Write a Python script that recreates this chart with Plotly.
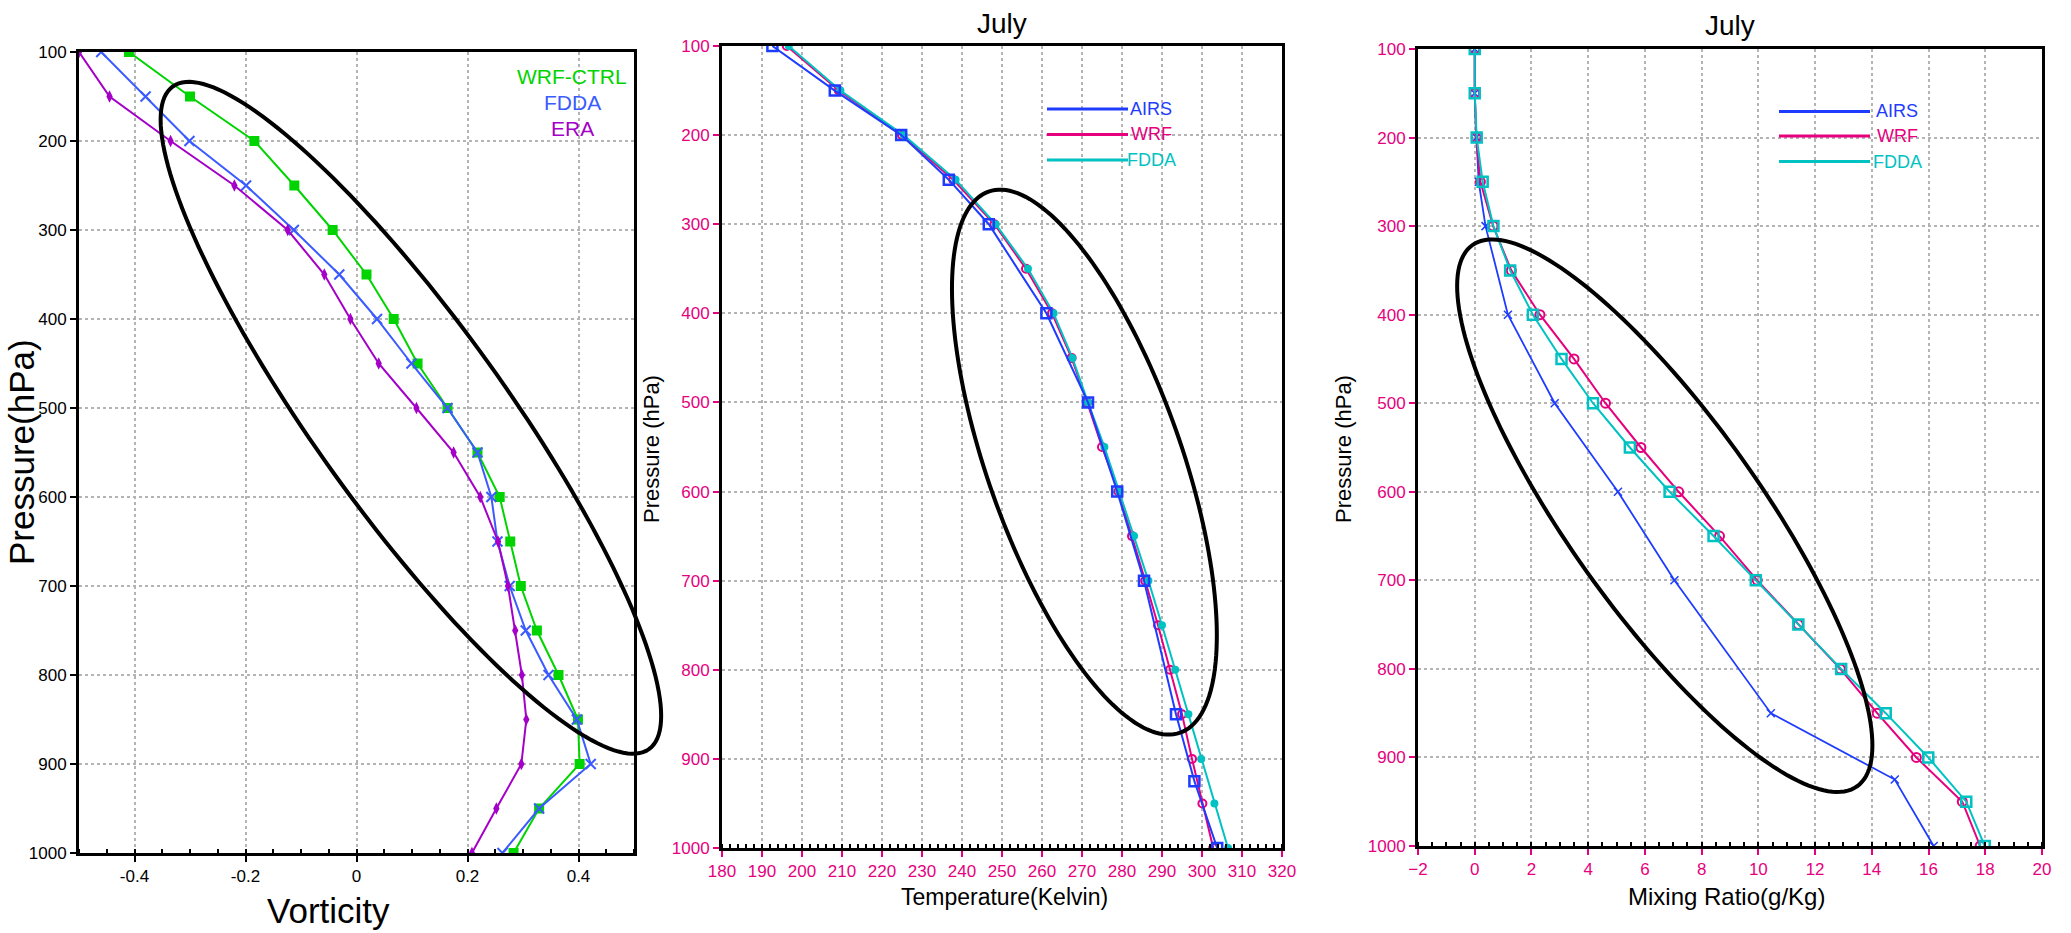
import numpy as np
import plotly.graph_objects as go

W, H = 2071, 933

# ---------------- data ----------------
p_levels = [100, 150, 200, 250, 300, 350, 400, 450, 500, 550,
            600, 650, 700, 750, 800, 850, 900, 950, 1000]

# Panel 1: vorticity
vort_wrf_ctrl = [-0.41, -0.30, -0.184, -0.112, -0.043, 0.018, 0.067, 0.110, 0.164, 0.218,
                 0.258, 0.277, 0.296, 0.325, 0.364, 0.399, 0.402, 0.329, 0.283]
vort_fdda = [-0.46, -0.38, -0.301, -0.199, -0.113, -0.031, 0.037, 0.099, 0.164, 0.218,
             0.243, 0.254, 0.276, 0.305, 0.346, 0.397, 0.422, 0.329, 0.263]
vort_era = [-0.50, -0.445, -0.335, -0.220, -0.124, -0.058, -0.011, 0.040, 0.108, 0.175,
            0.223, 0.255, 0.273, 0.286, 0.298, 0.306, 0.297, 0.252, 0.208]

# Panel 2: temperature (K)
p_airs = [100, 150, 200, 250, 300, 400, 500, 600, 700, 850, 925, 1000]
temp_airs = [192.6, 208.2, 224.8, 236.7, 246.7, 261.1, 271.5, 278.8, 285.5, 293.5, 298.1, 303.8]
temp_wrf = [196.2, 209.2, 225.0, 237.8, 248.1, 256.0, 262.5, 267.4, 271.3, 275.0,
            279.1, 282.5, 285.8, 289.0, 292.0, 295.0, 297.5, 300.1, 302.8]
temp_fdda = [196.7, 209.6, 225.4, 238.4, 248.4, 256.5, 262.9, 267.6, 271.5, 275.6,
             279.3, 283.0, 286.6, 290.0, 293.3, 296.6, 299.8, 303.1, 306.5]

# Panel 3: mixing ratio (g/kg)
mix_airs = [0.0, 0.0, 0.06, 0.14, 0.38, 1.17, 2.82, 5.05, 7.04, 10.44, 14.81, 16.18]
mix_wrf = [0.0, 0.0, 0.05, 0.20, 0.65, 1.29, 2.30, 3.50, 4.61, 5.86,
           7.19, 8.63, 9.96, 11.41, 12.89, 14.19, 15.57, 17.19, 17.82]
mix_fdda = [0.0, 0.0, 0.07, 0.28, 0.66, 1.25, 2.05, 3.06, 4.17, 5.47,
            6.87, 8.42, 9.91, 11.41, 12.92, 14.49, 15.99, 17.33, 17.98]

p_ticks = [100, 200, 300, 400, 500, 600, 700, 800, 900, 1000]
vort_ticks = [-0.4, -0.2, 0, 0.2, 0.4]
vort_tick_text = ["-0.4", "-0.2", "0", "0.2", "0.4"]
temp_ticks = list(range(180, 321, 10))
mix_ticks = list(range(-2, 21, 2))

# ---------------- styling ----------------
GREEN = "#00D400"
BLUE1 = "#3B5BFF"
PURPLE = "#A400C8"
BLUE = "#1E3CFF"
CRIMSON = "#E6007E"
TEAL = "#00C2C2"
GRID = "#B4B4B4"
FONT = "Liberation Sans, Arial, sans-serif"

# panel geometry in pixels (left, right, top, bottom)
P1 = (79, 634, 52, 853)
P2 = (722, 1282, 46, 848)
P3 = (1418, 2042, 49, 846)


def xdom(p):
    return [p[0] / W, p[1] / W]


def ydom(p):
    return [1 - p[3] / H, 1 - p[2] / H]


fig = go.Figure()

# Panel 1
fig.add_trace(go.Scatter(x=vort_wrf_ctrl, y=p_levels, mode="lines+markers", name="WRF-CTRL",
                         line=dict(color=GREEN, width=2),
                         marker=dict(symbol="square", size=10, color=GREEN),
                         xaxis="x", yaxis="y", showlegend=False))
fig.add_trace(go.Scatter(x=vort_fdda, y=p_levels, mode="lines+markers", name="FDDA",
                         line=dict(color=BLUE1, width=2),
                         marker=dict(symbol="x-thin-open", size=10, color=BLUE1,
                                     line=dict(color=BLUE1, width=2)),
                         xaxis="x", yaxis="y", showlegend=False))
fig.add_trace(go.Scatter(x=vort_era, y=p_levels, mode="lines+markers", name="ERA",
                         line=dict(color=PURPLE, width=2),
                         marker=dict(symbol="diamond-tall", size=9, color=PURPLE),
                         xaxis="x", yaxis="y", showlegend=False))

# Panel 2
fig.add_trace(go.Scatter(x=temp_wrf, y=p_levels, mode="lines+markers", name="WRF",
                         line=dict(color=CRIMSON, width=2),
                         marker=dict(symbol="circle-open", size=8, color=CRIMSON,
                                     line=dict(color=CRIMSON, width=2)),
                         xaxis="x2", yaxis="y2", showlegend=False))
fig.add_trace(go.Scatter(x=temp_fdda, y=p_levels, mode="lines+markers", name="FDDA",
                         line=dict(color=TEAL, width=2),
                         marker=dict(symbol="circle", size=8, color=TEAL),
                         xaxis="x2", yaxis="y2", showlegend=False))
fig.add_trace(go.Scatter(x=temp_airs, y=p_airs, mode="lines+markers", name="AIRS",
                         line=dict(color=BLUE, width=2),
                         marker=dict(symbol="square-open", size=10, color=BLUE,
                                     line=dict(color=BLUE, width=2.5)),
                         xaxis="x2", yaxis="y2", showlegend=False))

# Panel 3
fig.add_trace(go.Scatter(x=mix_airs, y=p_airs, mode="lines+markers", name="AIRS",
                         line=dict(color=BLUE, width=1.8),
                         marker=dict(symbol="x-thin-open", size=8, color=BLUE,
                                     line=dict(color=BLUE, width=1.5)),
                         xaxis="x3", yaxis="y3", showlegend=False))
fig.add_trace(go.Scatter(x=mix_wrf, y=p_levels, mode="lines+markers", name="WRF",
                         line=dict(color=CRIMSON, width=2),
                         marker=dict(symbol="circle-open", size=9, color=CRIMSON,
                                     line=dict(color=CRIMSON, width=2)),
                         xaxis="x3", yaxis="y3", showlegend=False))
fig.add_trace(go.Scatter(x=mix_fdda, y=p_levels, mode="lines+markers", name="FDDA",
                         line=dict(color=TEAL, width=2),
                         marker=dict(symbol="square-open", size=10, color=TEAL,
                                     line=dict(color=TEAL, width=2.5)),
                         xaxis="x3", yaxis="y3", showlegend=False))


def xaxis_cfg(p, rng, ticks, ticktext, color, minor_dt, anchor):
    d = dict(domain=xdom(p), range=rng, tickmode="array", tickvals=ticks, anchor=anchor,
             automargin=False,
             showline=True, linecolor="black", linewidth=3, mirror=True,
             ticks="outside", ticklen=6, tickwidth=2, tickcolor=color,
             tickfont=dict(family=FONT, size=17, color=color),
             showgrid=True, gridcolor=GRID, griddash="dot", gridwidth=1.5,
             zeroline=False,
             minor=dict(dtick=minor_dt, ticks="inside", ticklen=4, tickcolor="black",
                        tickwidth=1.5, showgrid=False))
    if ticktext is not None:
        d["ticktext"] = ticktext
    return d


def yaxis_cfg(p, color, anchor):
    return dict(domain=ydom(p), range=[1000, 100], tickmode="array", tickvals=p_ticks,
                anchor=anchor, automargin=False,
                showline=True, linecolor="black", linewidth=3, mirror=True,
                ticks="outside", ticklen=6, tickwidth=2, tickcolor=color,
                tickfont=dict(family=FONT, size=17, color=color),
                showgrid=True, gridcolor=GRID, griddash="dot", gridwidth=1.5,
                zeroline=False)


fig.update_layout(
    template="none",
    width=W, height=H, margin=dict(l=0, r=0, t=0, b=0, pad=0, autoexpand=False),
    paper_bgcolor="white", plot_bgcolor="white",
    xaxis=xaxis_cfg(P1, [-0.5, 0.5], vort_ticks, vort_tick_text, "black", 0.05, "y"),
    yaxis=yaxis_cfg(P1, "black", "x"),
    xaxis2=xaxis_cfg(P2, [180, 320], temp_ticks, None, CRIMSON, 2, "y2"),
    yaxis2=yaxis_cfg(P2, CRIMSON, "x2"),
    xaxis3=xaxis_cfg(P3, [-2, 20], mix_ticks, None, CRIMSON, 0.5, "y3"),
    yaxis3=yaxis_cfg(P3, CRIMSON, "x3"),
)


def ann(x, y, text, size, color="black", angle=0, xanchor="center"):
    fig.add_annotation(x=x / W, y=1 - y / H, xref="paper", yref="paper", text=text,
                       showarrow=False, textangle=angle, xanchor=xanchor, yanchor="middle",
                       font=dict(family=FONT, size=size, color=color))


# titles and axis labels
ann(1002, 24, "July", 28)
ann(1730, 26, "July", 28)
ann(328, 910, "Vorticity", 35)
ann(1004, 897, "Temperature(Kelvin)", 23)
ann(1726, 896, "Mixing Ratio(g/Kg)", 24)
ann(21, 452, "Pressure(hPa)", 35, angle=-90)
ann(651, 449, "Pressure (hPa)", 22, angle=-90)
ann(1343, 449, "Pressure (hPa)", 22, angle=-90)

# legend panel 1 (text only)
ann(572, 77, "WRF-CTRL", 21, GREEN)
ann(572, 103, "FDDA", 21, BLUE1)
ann(572, 129, "ERA", 21, PURPLE)

# legends panels 2 and 3
leg_names = ["AIRS", "WRF", "FDDA"]
leg_colors = [BLUE, CRIMSON, TEAL]
for (x0, x1, xt, ys) in [(1047, 1128, 1151, [109, 134.5, 160]),
                         (1779, 1870, 1897, [111.5, 136, 161.5])]:
    for name, col, yy in zip(leg_names, leg_colors, ys):
        fig.add_shape(type="line", xref="paper", yref="paper",
                      x0=x0 / W, x1=x1 / W, y0=1 - yy / H, y1=1 - yy / H,
                      line=dict(color=col, width=3))
        ann(xt, yy, name, 18, col)


# ellipses (annotation), defined by centre in data units, semi-axes in px, angle in deg
def to_px(p, rng, xv, yv):
    x = p[0] + (xv - rng[0]) / (rng[1] - rng[0]) * (p[1] - p[0])
    y = p[2] + (yv - 100) / 900 * (p[3] - p[2])
    return x, y


def ellipse(p, rng, cx, cy, a, b, ang):
    px, py = to_px(p, rng, cx, cy)
    t = np.linspace(0, 2 * np.pi, 181)
    th = np.radians(ang)
    dx = a * np.cos(t) * np.cos(th) - b * np.sin(t) * np.sin(th)
    dy = a * np.cos(t) * np.sin(th) + b * np.sin(t) * np.cos(th)
    xs = (px + dx) / W
    ys = 1 - (py + dy) / H
    path = "M " + " L ".join(f"{x:.5f},{y:.5f}" for x, y in zip(xs, ys)) + " Z"
    fig.add_shape(type="path", path=path, xref="paper", yref="paper",
                  line=dict(color="black", width=4), fillcolor="rgba(0,0,0,0)")


ellipse(P1, [-0.5, 0.5], 0.098, 511, 408, 95, 54.3)
ellipse(P2, [180, 320], 270.6, 567, 287, 97, 70.5)
ellipse(P3, [-2, 20], 6.70, 627, 332, 96, 54.6)

fig.write_html("out.html", config={"displayModeBar": False},
               post_script="document.body.style.margin='0px';document.body.style.overflow='hidden';")
